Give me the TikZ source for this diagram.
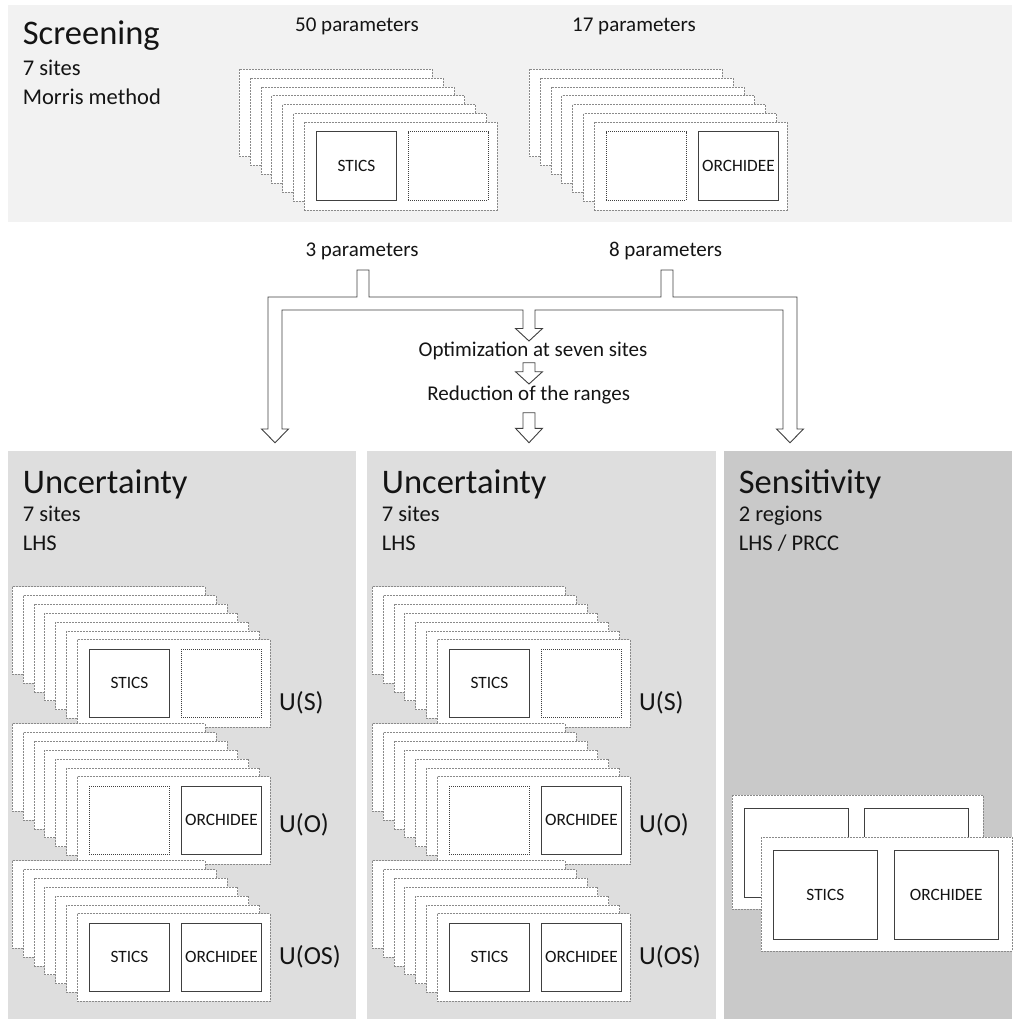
\documentclass[tikz,border=0pt]{standalone}
\usepackage{fontspec}
\setmainfont{Carlito}
\definecolor{toppanel}{HTML}{F2F2F2}
\definecolor{uncpanel}{HTML}{DEDEDE}
\definecolor{senpanel}{HTML}{C9C9C9}
\definecolor{inkline}{HTML}{404040}
\definecolor{sheetline}{HTML}{8A8A8A}
\definecolor{txt}{HTML}{141414}
\newcommand\Stack[7]{%
  \foreach \i in {0,...,6} {\draw[sheet] ({#2+\i*10.85},{#3+\i*8.85}) rectangle ++(193,87.5);}
  \node[#4] (#1-l) at ({#2+65.1+52},{#3+53.1+43.5}) {#5};
  \node[#6] (#1-r) at ({#2+65.1+144},{#3+53.1+43.5}) {#7};
}
\newcommand\BlockDown[4]{%
  \draw[pipe] ({#1-6},#2) -- ({#1+6},#2) -- ({#1+6},#3) -- ({#1+13.5},#3) -- (#1,#4) -- ({#1-13.5},#3) -- ({#1-6},#3) -- cycle;}
\begin{document}
\begin{tikzpicture}[x=1pt,y=-1pt,
  sheet/.style={draw=sheetline, fill=white, line width=0.8pt, dash pattern=on 2pt off 1pt},
  solidbox/.style={draw=inkline, fill=white, line width=0.9pt, minimum width=80pt, minimum height=68.5pt, inner sep=0pt, text=txt, font=\fontsize{17.3}{17.3}\selectfont},
  dotbox/.style={solidbox, dash pattern=on 1pt off 1pt},
  bigbox/.style={solidbox, minimum width=104.3pt, minimum height=89pt},
  pipe/.style={draw=inkline, fill=white, line width=0.9pt, line join=miter},
  title/.style={anchor=base west, inner sep=0pt, text=txt, font=\fontsize{34.5}{34.5}\selectfont},
  sub/.style={anchor=base west, inner sep=0pt, text=txt, font=\fontsize{22.5}{22.5}\selectfont},
  lab/.style={anchor=base, inner sep=0pt, text=txt, font=\fontsize{21}{21}\selectfont},
  ulab/.style={anchor=base west, inner sep=0pt, text=txt, font=\fontsize{26}{26}\selectfont}
]
\useasboundingbox (0,0) rectangle (1012,1019);
% panels
\fill[toppanel] (8,5) rectangle (1012,222);
\fill[uncpanel] (8,451) rectangle (356,1018.5);
\fill[uncpanel] (367,451) rectangle (715.5,1018.5);
\fill[senpanel] (724.3,451) rectangle (1012,1018.5);
% screening texts
\node[title] (scr) at (22.7,45) {Screening};
\node[sub] (scr1) at (22.7,76) {7 sites};
\node[sub] (scr2) at (22.7,105) {Morris method};
\node[lab] (p50) at (357,31.7) {50 parameters};
\node[lab] (p17) at (634,31.7) {17 parameters};
% top stacks
\Stack{ts}{239.3}{69.3}{solidbox}{STICS}{dotbox}{}
\Stack{to}{529.3}{69.3}{dotbox}{}{solidbox}{ORCHIDEE}
% parameter labels
\node[lab] (p3) at (362,256.7) {3 parameters};
\node[lab] (p8) at (665.5,256.7) {8 parameters};
% pipes
\draw[pipe] (357,270) -- (369,270) -- (369,297) -- (661,297) -- (661,270) -- (673,270) -- (673,297)
  -- (797,297) -- (797,429) -- (803.5,429) -- (790,442.7) -- (776.5,429) -- (783,429) -- (783,310)
  -- (535,310) -- (535,328.5) -- (542.5,328.5) -- (529,341) -- (515.5,328.5) -- (523,328.5) -- (523,310)
  -- (282,310) -- (282,429) -- (288.5,429) -- (275,442.7) -- (261.5,429) -- (268,429) -- (268,297)
  -- (357,297) -- cycle;
\node[lab] (opt) at (533,356.7) {Optimization at seven sites};
\BlockDown{529}{362.7}{371.7}{384}
\node[lab] (red) at (528.7,400) {Reduction of the ranges};
\BlockDown{529}{412.7}{428.3}{442.7}
% uncertainty panel 1
\node[title] (u1) at (22.7,493.3) {Uncertainty};
\node[sub] (u1a) at (22.7,521.7) {7 sites};
\node[sub] (u1b) at (22.7,550) {LHS};
\Stack{a1}{12.3}{586.7}{solidbox}{STICS}{dotbox}{}
\Stack{a2}{12.3}{723.7}{dotbox}{}{solidbox}{ORCHIDEE}
\Stack{a3}{12.3}{860.7}{solidbox}{STICS}{solidbox}{ORCHIDEE}
\node[ulab] (us1) at (279,710) {U(S)};
\node[ulab] (uo1) at (279,832) {U(O)};
\node[ulab] (uos1) at (279,964) {U(OS)};
% uncertainty panel 2
\node[title] (u2) at (381.7,493.3) {Uncertainty};
\node[sub] (u2a) at (381.7,521.7) {7 sites};
\node[sub] (u2b) at (381.7,550) {LHS};
\Stack{b1}{372.3}{586.7}{solidbox}{STICS}{dotbox}{}
\Stack{b2}{372.3}{723.7}{dotbox}{}{solidbox}{ORCHIDEE}
\Stack{b3}{372.3}{860.7}{solidbox}{STICS}{solidbox}{ORCHIDEE}
\node[ulab] (us2) at (639,710) {U(S)};
\node[ulab] (uo2) at (639,832) {U(O)};
\node[ulab] (uos2) at (639,964) {U(OS)};
% sensitivity panel
\node[title] (sen) at (738.7,493.3) {Sensitivity};
\node[sub] (sena) at (738.7,521.7) {2 regions};
\node[sub] (senb) at (738.7,550) {LHS / PRCC};
\draw[sheet] (732.3,795) rectangle (983.3,909.3);
\node[bigbox] (sb1) at (796.2,853.3) {};
\node[bigbox] (sb2) at (916.5,853.3) {};
\draw[sheet] (761,837.3) rectangle (1012,951.3);
\node[bigbox] (sf1) at (825.3,894.7) {STICS};
\node[bigbox] (sf2) at (946.2,894.7) {ORCHIDEE};
\end{tikzpicture}
\end{document}
